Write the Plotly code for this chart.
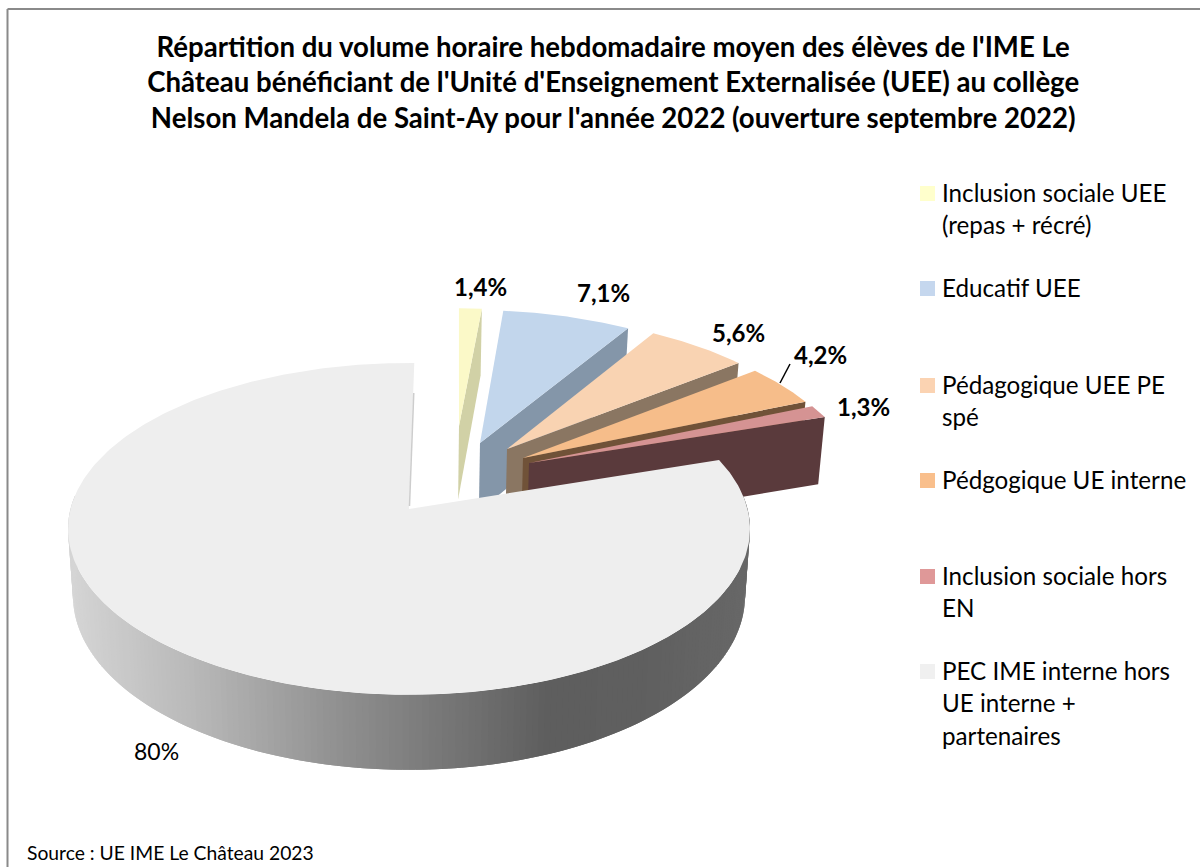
import numpy as np
import plotly.graph_objects as go

# ---- data ----
labels = ["Inclusion sociale UEE (repas + récré)", "Educatif UEE", "Pédagogique UEE PE spé",
          "Pédgogique UE interne", "Inclusion sociale hors EN", "PEC IME interne hors UE interne + partenaires"]
values = [1.4, 7.1, 5.6, 4.2, 1.3, 80.0]
value_labels = ["1,4%", "7,1%", "5,6%", "4,2%", "1,3%", "80%"]
legend_lines = [["Inclusion sociale UEE", "(repas + récré)"], ["Educatif UEE"], ["Pédagogique UEE PE", "spé"],
                ["Pédgogique UE interne"], ["Inclusion sociale hors", "EN"],
                ["PEC IME interne hors", "UE interne +", "partenaires"]]
title_text = ("Répartition du volume horaire hebdomadaire moyen des élèves de l'IME Le<br>"
              "Château bénéficiant de l'Unité d'Enseignement Externalisée (UEE) au collège<br>"
              "Nelson Mandela de Saint-Ay pour l'année 2022 (ouverture septembre 2022)")
source_text = "Source : UE IME Le Château 2023"

# ---- style ----
face_colors = ["#fbf9c8", "#c2d6ec", "#f9d3b2", "#f6bd8a", "#d59393", "#eeeeee"]
wall_colors = ["#d1d1a6", "#8496a9", "#8a7662", "#705238", "#5a3a3c", "#cfcfcf"]
swatch_colors = ["#ffffcc", "#c5d7ee", "#fbd3b2", "#f9bf8c", "#df9898", "#f0f0f0"]
label_pos = [(480.5, 286.5), (603, 292.5), (738.5, 332.5), (820.5, 354.5), (863, 406.5), (156, 751)]
legend_y = [193, 288, 385, 480, 576, 671]
FONT = "Lato, Carlito, Calibri, sans-serif"

# ---- projection of the pie plane (perspective) ----
CX, CY, A, B, K = 409.0, 509.0, 163.5, 338.5, 0.12
def project(u, v, depth=0.0):
    d = 1 + K * v
    return CX + B * u / d * (1 - 0.00022 * depth), CY - A * v / d + depth / d
def plan(x, y):
    w = (CY - y) / A
    v = w / (1 - K * w)
    return (x - CX) * (1 + K * v) / B, v

apex_px = [(459, 426), (480, 443), (507, 449), (523, 458), (529, 463), (409, 509)]
radius = [0.90, 1.0, 1.0, 1.0, 1.0, 1.0]
depths = [78, 72, 72, 72, 72, 66]
START = 1.0

sweeps = np.array(values) / sum(values) * 360
ends = START + np.cumsum(sweeps)
starts = ends - sweeps

fig = go.Figure()
def poly(xs, ys, fill, name="", hover=False):
    fig.add_trace(go.Scatter(x=list(xs), y=list(ys), mode="lines", fill="toself", fillcolor=fill,
                             line=dict(color=fill, width=0), showlegend=False,
                             name=name, hoverinfo="name" if hover else "skip"))

def arc(i, depth=0.0, n=None):
    a0, a1 = np.radians(starts[i]), np.radians(ends[i])
    n = n or max(6, int(sweeps[i] * 2))
    t = np.linspace(a0, a1, n)
    u0, v0 = plan(*apex_px[i])
    return project(u0 + radius[i] * np.sin(t), v0 + radius[i] * np.cos(t), depth)

# big slice outer wall with a horizontal gradient
stops_x = [68, 105, 196, 333, 424, 551, 650, 750]
stops_g = [214, 205, 184, 146, 124, 94, 96, 104]
edges = np.radians(np.linspace(85, 275, 191))
big = len(values) - 1
u0, v0 = plan(*apex_px[big])

def draw_slice(i):
    ax, ay = apex_px[i]
    xa, ya = arc(i)
    u1, v1 = plan(ax, ay)
    t = np.radians(ends[i])
    ue, ve = u1 + radius[i] * np.sin(t), v1 + radius[i] * np.cos(t)
    pts = [project(u1, v1), project(ue, ve), project(ue, ve, depths[i]), project(u1, v1, depths[i])]
    poly([p[0] for p in pts], [p[1] for p in pts], wall_colors[i])
    poly(list(xa) + [ax], list(ya) + [ay], face_colors[i], name=labels[i], hover=True)

for i in range(big):
    draw_slice(i)

# strips overlap the next one so that no seams show
for j in range(len(edges) - 1):
    ts = edges[j:j + 3]
    top = project(u0 + np.sin(ts), v0 + np.cos(ts))
    bot = project(u0 + np.sin(ts[::-1]), v0 + np.cos(ts[::-1]), depths[big])
    xm = float(np.mean(project(u0 + np.sin(edges[j:j + 2]), v0 + np.cos(edges[j:j + 2]))[0]))
    g = int(np.interp(xm, stops_x, stops_g))
    poly(list(top[0]) + list(bot[0]), list(top[1]) + list(bot[1]), f"rgb({g},{g},{g})")

xa, ya = arc(big, n=300)
poly(list(xa) + [apex_px[big][0]], list(ya) + [apex_px[big][1]], face_colors[big], name=labels[big], hover=True)
# thin lit edge of the big slice
fig.add_trace(go.Scatter(x=[xa[-1] - 0.5, apex_px[big][0] + 0.5], y=[ya[-1] + 30, apex_px[big][1] - 3],
                         mode="lines", line=dict(color="#cdcdcd", width=1.5), showlegend=False, hoverinfo="skip"))

# data labels
for i, (t, (x, y)) in enumerate(zip(value_labels, label_pos)):
    fig.add_annotation(x=x, y=y, text=f"<b>{t}</b>" if i < big else t, showarrow=False,
                       font=dict(family=FONT, size=24 if i < big else 23, color="#000000"))

# legend
for y, lines, c in zip(legend_y, legend_lines, swatch_colors):
    fig.add_shape(type="rect", x0=920, x1=935, y0=y - 7, y1=y + 8, fillcolor=c, line_width=0, layer="above")
    for j, t in enumerate(lines):
        fig.add_annotation(x=939.5, y=y - 1 + 32.5 * j, text=t, showarrow=False, xanchor="left", align="left",
                           font=dict(family=FONT, size=24.2, color="#000000"))

fig.add_annotation(x=25, y=852, text=source_text, showarrow=False, xanchor="left",
                   font=dict(family=FONT, size=19.3, color="#000000"))

# leader line and chart frame
fig.add_shape(type="line", x0=790, y0=364, x1=780, y1=383, line=dict(color="#000000", width=1.5), layer="above")
fig.add_shape(type="line", x0=7.5, y0=9, x1=7.5, y1=867, line=dict(color="#8a8a8a", width=2), layer="above")
fig.add_shape(type="line", x0=7.5, y0=9, x1=1200, y1=9, line=dict(color="#8a8a8a", width=2), layer="above")

fig.update_layout(
    width=1200, height=867, margin=dict(l=0, r=0, t=0, b=0),
    paper_bgcolor="#ffffff", plot_bgcolor="#ffffff", showlegend=False,
    title=dict(text=f"<b>{title_text}</b>", x=0.511, xanchor="center", y=0.9347, yanchor="top",
               yref="container", automargin=False,
               font=dict(family=FONT, size=27.6, color="#000000")),
    xaxis=dict(range=[0, 1200], visible=False, fixedrange=True),
    yaxis=dict(range=[867, 0], visible=False, fixedrange=True),
)
fig.write_html("out.html", config={"displayModeBar": False},
               post_script="document.body.style.margin='0';")
